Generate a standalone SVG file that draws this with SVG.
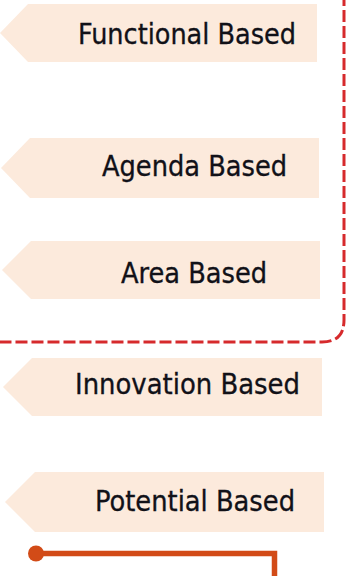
<svg xmlns="http://www.w3.org/2000/svg" width="346" height="576" viewBox="0 0 346 576">
  <style>
    .tag { fill: #FCEADC; }
    .lbl { font-family: "DejaVu Sans Condensed", "DejaVu Sans", "Liberation Sans", sans-serif; font-stretch: condensed; font-size: 28px; fill: #111118; stroke: #111118; stroke-width: 0.3; }
    .dash { fill: none; stroke: #D62A2C; stroke-width: 3; stroke-dasharray: 12 4; }
    .link { fill: none; stroke: #D24B17; stroke-width: 5.5; stroke-linejoin: miter; }
  </style>
  <rect width="346" height="576" fill="#ffffff"/>
  <g id="connectors">
    <path class="dash" d="M344,-6 V320 Q344,342 322,342 H-4"/>
    <path class="link" d="M36,553.5 H274.5 V580"/>
    <circle cx="36" cy="553.5" r="8" fill="#D24B17"/>
  </g>
  <g id="functional-based">
    <polygon class="tag" points="0,33 28,4 317,4 317,62 28,62"/>
    <text class="lbl" x="78" y="44" textLength="218" lengthAdjust="spacingAndGlyphs">Functional Based</text>
  </g>
  <g id="agenda-based">
    <polygon class="tag" points="1,168 30,138 319,138 319,198 30,198"/>
    <text class="lbl" x="102" y="176" textLength="185" lengthAdjust="spacingAndGlyphs">Agenda Based</text>
  </g>
  <g id="area-based">
    <polygon class="tag" points="2,270 31,241 320,241 320,299 31,299"/>
    <text class="lbl" x="121" y="283" textLength="146" lengthAdjust="spacingAndGlyphs">Area Based</text>
  </g>
  <g id="innovation-based">
    <polygon class="tag" points="3,387 32,358 322,358 322,416 32,416"/>
    <text class="lbl" x="75" y="394" textLength="225" lengthAdjust="spacingAndGlyphs">Innovation Based</text>
  </g>
  <g id="potential-based">
    <polygon class="tag" points="5,502 35,472 324,472 324,532 35,532"/>
    <text class="lbl" x="95" y="511" textLength="200" lengthAdjust="spacingAndGlyphs">Potential Based</text>
  </g>
</svg>
